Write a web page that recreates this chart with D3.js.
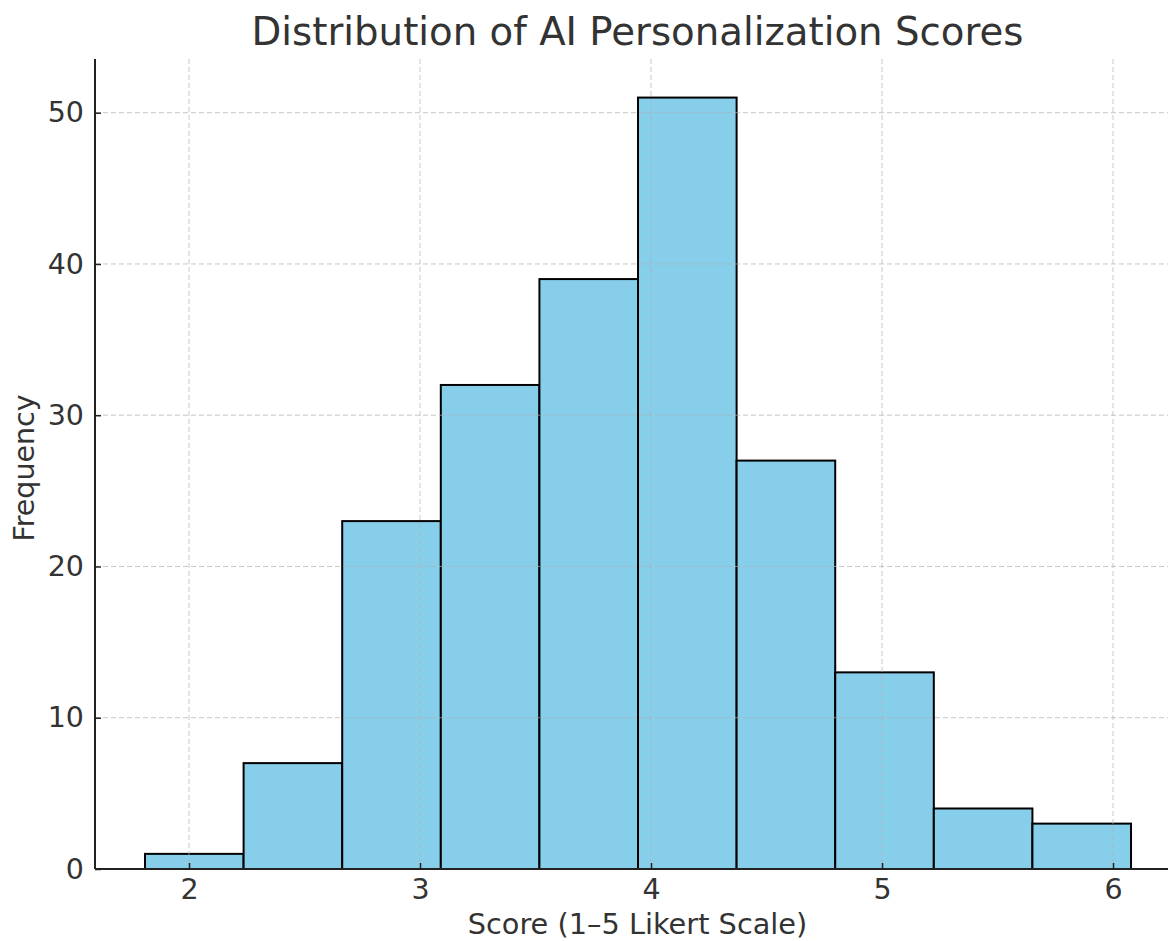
<!DOCTYPE html>
<html><head><meta charset="utf-8">
<script src="https://cdnjs.cloudflare.com/ajax/libs/d3/7.8.5/d3.min.js"></script>
<style>body{margin:0;background:#fff;}svg{display:block;font-family:"DejaVu Sans",sans-serif;}</style>
</head><body><svg id="c" width="1169" height="941"></svg>
<script>
const binEdges = [1.8095, 2.2363, 2.6632, 3.0900, 3.5169, 3.9437, 4.3705, 4.7974, 5.2242, 5.6511, 6.0779];
const counts = [1, 7, 23, 32, 39, 51, 27, 13, 4, 3];
const xTicks = [2, 3, 4, 5, 6];
const yTicks = [0, 10, 20, 30, 40, 50];
const title = "Distribution of AI Personalization Scores";
const xLabel = "Score (1\u20135 Likert Scale)";
const yLabel = "Frequency";

const svg = d3.select("#c");
const L = 95, R = 1168, T = 59, B = 869;
const x = d3.scaleLinear().domain([1.593, 6.238]).range([L, R]);
const y = d3.scaleLinear().domain([0, 53.55]).range([B, T]);
const textCol = "#333333";

// bars
const bins = counts.map((c, i) => ({x0: binEdges[i], x1: binEdges[i + 1], c}));
svg.append("g").selectAll("rect").data(bins).join("rect")
  .attr("x", d => x(d.x0)).attr("width", d => x(d.x1) - x(d.x0))
  .attr("y", d => y(d.c)).attr("height", d => y(0) - y(d.c))
  .attr("fill", "#87CEEB").attr("stroke", "#000").attr("stroke-width", 2);

// grid (drawn over bars)
const grid = svg.append("g").attr("stroke", "#b0b0b0").attr("stroke-opacity", 0.7)
  .attr("stroke-width", 1).attr("stroke-dasharray", "5,3");
grid.selectAll("line.v").data(xTicks).join("line").attr("class", "v")
  .attr("x1", d => x(d)).attr("x2", d => x(d)).attr("y1", T).attr("y2", B);
grid.selectAll("line.h").data(yTicks).join("line").attr("class", "h")
  .attr("x1", L).attr("x2", R).attr("y1", d => y(d)).attr("y2", d => y(d));

// axes
const xAxis = svg.append("g").attr("transform", `translate(0,${B})`)
  .call(d3.axisBottom(x).tickValues(xTicks).tickSizeInner(-6).tickSizeOuter(0).tickPadding(10).tickFormat(d3.format("d")));
const yAxis = svg.append("g").attr("transform", `translate(${L},0)`)
  .call(d3.axisLeft(y).tickValues(yTicks).tickSizeInner(-6).tickSizeOuter(0).tickPadding(11).tickFormat(d3.format("d")));
[xAxis, yAxis].forEach(a => {
  a.attr("font-family", "DejaVu Sans");
  a.select(".domain").attr("stroke", "#222").attr("stroke-width", 2);
  a.selectAll(".tick line").attr("stroke", "#222").attr("stroke-width", 1.5);
  a.selectAll(".tick text").attr("fill", textCol).attr("font-size", 28.5);
});
xAxis.select(".domain").attr("d", `M${L},0H${R}`);
yAxis.select(".domain").attr("d", `M0,${T}V${B}`);

// labels
svg.append("text").attr("x", 637.5).attr("y", 45).attr("text-anchor", "middle")
  .attr("font-size", 38.7).attr("fill", textCol).text(title);
svg.append("text").attr("x", 637.5).attr("y", 934).attr("text-anchor", "middle")
  .attr("font-size", 28.8).attr("fill", textCol).text(xLabel);
svg.append("text").attr("transform", "translate(34,468) rotate(-90)").attr("text-anchor", "middle")
  .attr("font-size", 28.5).attr("fill", textCol).text(yLabel);
</script></body></html>
